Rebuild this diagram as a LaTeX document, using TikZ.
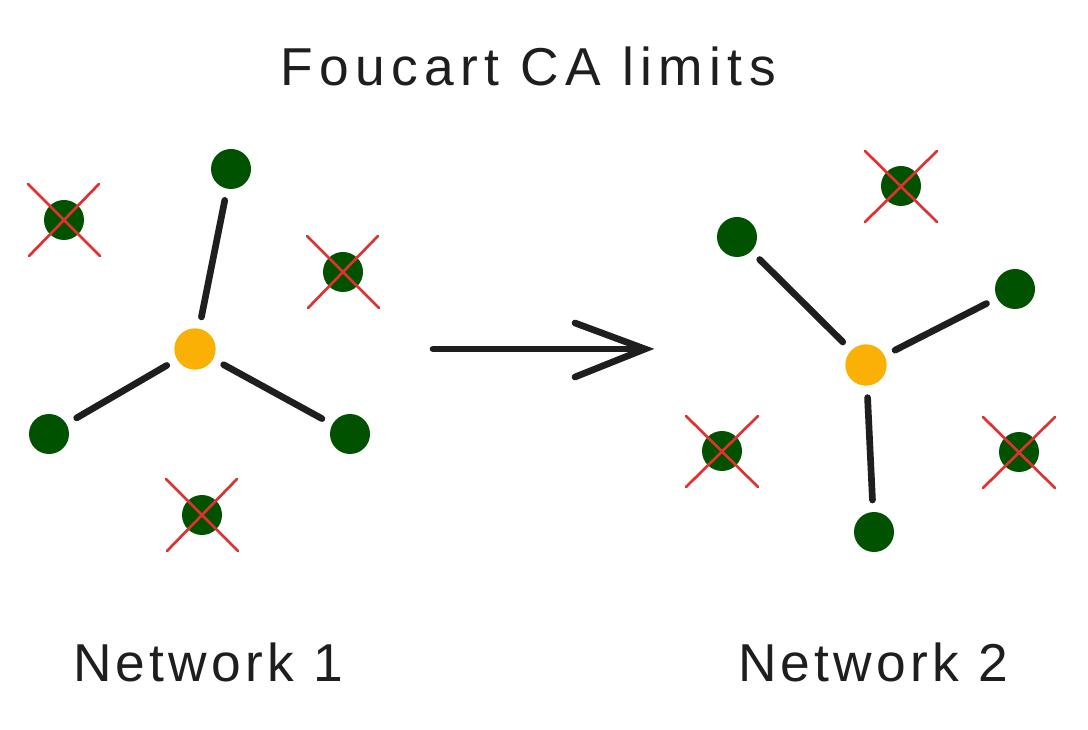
\documentclass[tikz,border=0pt]{standalone}
\usepackage{fontspec}
\setmainfont{Liberation Sans}
\newfontfamily\wideA[LetterSpace=12]{Liberation Sans}
\newfontfamily\wideB[LetterSpace=8]{Liberation Sans}
\definecolor{dgreen}{HTML}{005200}
\definecolor{ncore}{HTML}{FAB005}
\definecolor{xred}{HTML}{E03131}
\definecolor{ink}{HTML}{1E1E1E}
\begin{document}
\begin{tikzpicture}[x=0.75pt,y=-0.75pt,
  leaf/.style={circle,fill=dgreen,minimum size=30pt,inner sep=0pt,outer sep=9pt},
  core/.style={circle,fill=ncore,minimum size=31pt,inner sep=0pt,outer sep=9pt},
  link/.style={ink,line width=5pt,line cap=round},
  cross/.style={xred,line width=2pt,line cap=round},
  label/.style={text=ink}]
\fill[white] (0,0) rectangle (1088,730);
\useasboundingbox (0,0) rectangle (1088,730);

\node[label,font=\wideA\fontsize{40}{48}\selectfont] (title) at (528,66) {Foucart CA limits};

% Network 1
\node[core] (c1) at (195,349) {};
\node[leaf] (n1a) at (231,169) {};
\node[leaf] (n1b) at (64,220) {};
\node[leaf] (n1c) at (343,272) {};
\node[leaf] (n1d) at (49,434) {};
\node[leaf] (n1e) at (350,434) {};
\node[leaf] (n1f) at (202,515) {};
\draw[link] (c1) -- (n1a);
\draw[link] (c1) -- (n1d);
\draw[link] (c1) -- (n1e);
\foreach \n in {n1b,n1c,n1f}{
  \draw[cross] (\n.center) ++(-36,-36) -- ++(72,72);
  \draw[cross] (\n.center) ++(35,-36) -- ++(-70,72);
}
\node[label,font=\wideB\fontsize{40}{48}\selectfont] (lab1) at (208,662) {Network 1};

% Arrow
\coordinate (a1) at (433,349);
\coordinate (a2) at (645,349);
\draw[link] (a1) -- (a2);
\draw[link] (575,323) -- (a2) -- (575,377);

% Network 2
\node[core] (c2) at (866,365) {};
\node[leaf] (n2a) at (737,237) {};
\node[leaf] (n2b) at (1015,289) {};
\node[leaf] (n2c) at (874,532) {};
\node[leaf] (n2d) at (901,186) {};
\node[leaf] (n2e) at (722,451) {};
\node[leaf] (n2f) at (1019,452) {};
\draw[link] (c2) -- (n2a);
\draw[link] (c2) -- (n2b);
\draw[link] (c2) -- (n2c);
\foreach \n in {n2d,n2e,n2f}{
  \draw[cross] (\n.center) ++(-36,-35) -- ++(72,71);
  \draw[cross] (\n.center) ++(36,-35) -- ++(-72,71);
}
\node[label,font=\wideB\fontsize{40}{48}\selectfont] (lab2) at (873,662) {Network 2};
\end{tikzpicture}
\end{document}
